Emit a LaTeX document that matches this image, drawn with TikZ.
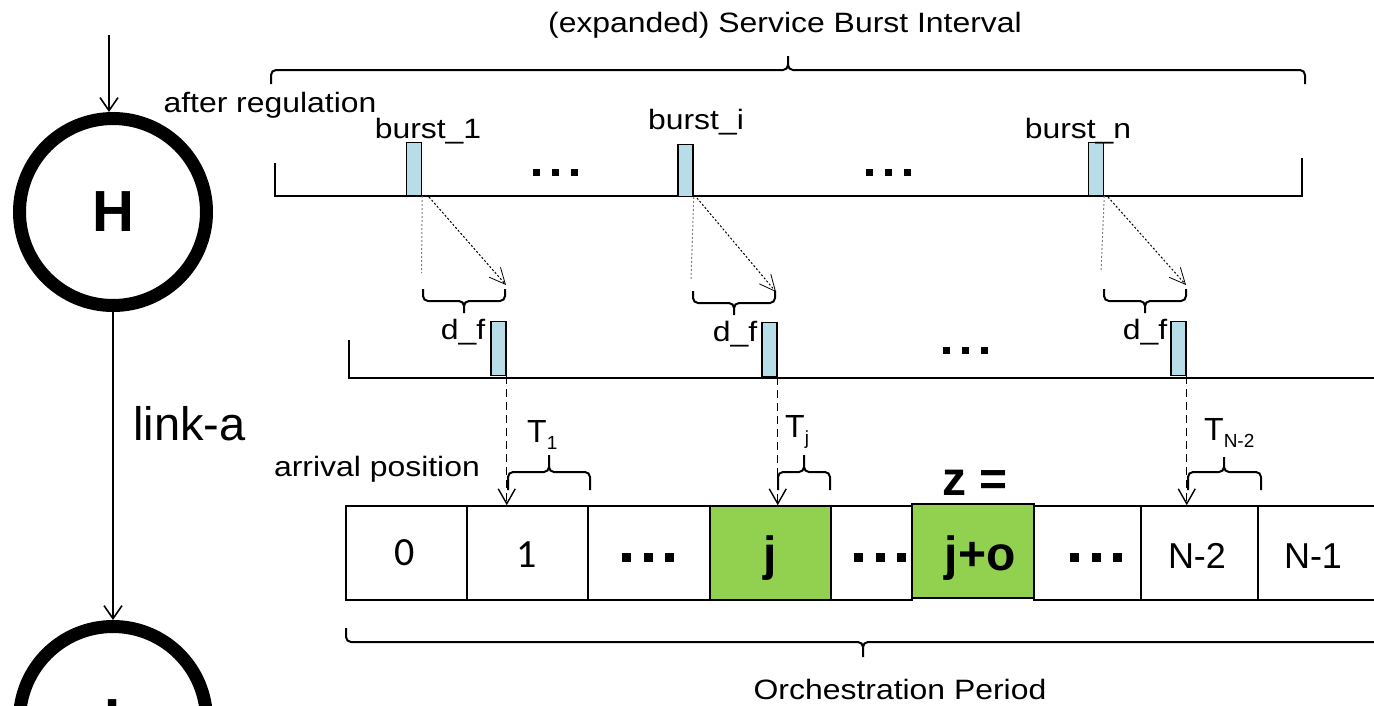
\documentclass[tikz,border=0pt]{standalone}
\usepackage{fontspec}
\setmainfont{Liberation Sans}
\newfontfamily\widesans{Liberation Sans}[FakeStretch=1.14]
\newfontfamily\digitfont{Carlito}
\usetikzlibrary{arrows.meta}

\definecolor{burstblue}{HTML}{B7DEE8}
\definecolor{slotgreen}{HTML}{92D050}

% three square dots: #1 = dot size, #2 = gap
\newcommand\sqdots[2]{\rule{#1}{#1}\hspace{#2}\rule{#1}{#1}\hspace{#2}\rule{#1}{#1}}
% curly brace: x1, x2, y of bar, y of ends, y of tip, x of tip
\newcommand\curlybrace[6]{\draw[bracket] (#1,#4) -- (#1,#3) -- (#6,#3) -- (#6,#5) (#6,#5) -- (#6,#3) -- (#2,#3) -- (#2,#4);}

\tikzset{
  wtxt/.style={font=\widesans\fontsize{28}{30}\selectfont, inner sep=0pt, anchor=base},
  btxt/.style={font=\bfseries\fontsize{48}{50}\selectfont, inner sep=0pt, anchor=base},
  ntxt/.style={font=\fontsize{36}{38}\selectfont, inner sep=0pt, anchor=base},
  dtxt/.style={font=\digitfont\fontsize{40}{42}\selectfont, inner sep=0pt, anchor=base},
  ttxt/.style={font=\fontsize{32}{34}\selectfont, inner sep=0pt, anchor=base west},
  hop/.style={circle, draw, line width=13pt, minimum size=187pt, inner sep=0pt,
              font=\bfseries\fontsize{58}{60}\selectfont},
  arr/.style={line width=1.6pt, -{Straight Barb[length=13pt,width=18pt]}},
  timeline/.style={line width=2.2pt},
  burst/.style={draw, line width=1.5pt, fill=burstblue, minimum width=15pt,
                minimum height=53pt, inner sep=0pt, anchor=south},
  shadowline/.style={gray, line width=1pt, dash pattern=on 2pt off 2pt},
  delayline/.style={line width=1pt, dash pattern=on 2pt off 2pt,
                -{Straight Barb[length=16pt,width=15pt,line width=0.8pt]}},
  drop/.style={line width=1.4pt, dash pattern=on 8pt off 5pt,
               -{Straight Barb[length=15pt,width=17pt]}},
  slot/.style={draw, line width=1.6pt, minimum height=94pt, inner sep=0pt},
  bracket/.style={line width=2pt, rounded corners=5pt},
  dotrow/.style={inner sep=0pt}
}

\begin{document}
\begin{tikzpicture}[x=1pt, y=-1pt]
\useasboundingbox (0,0) rectangle (1374,705);
\clip (0,0) rectangle (1374,705);

% hops and the link between them
\node[hop] (H) at (113,212) {H};
\node[hop] (I) at (113,720) {I};
\coordinate (in) at (109,35);
\draw[arr] (in) -- (in |- H.north);
\draw[arr] (H) -- (I);
\node[font=\fontsize{47}{49}\selectfont, inner sep=0pt, anchor=base west] (link) at (133,440) {link-a};

% service burst interval
\node[wtxt] (title) at (785,32) {(expanded) Service Burst Interval};
\curlybrace{271}{1305}{70}{84}{56}{788}
\node[wtxt] (after) at (270,112) {after regulation};

% timeline after regulation
\coordinate (l1a) at (275,163);
\coordinate (l1b) at (275,196);
\coordinate (l1c) at (1302,196);
\coordinate (l1d) at (1302,158);
\draw[timeline] (l1a) -- (l1b) -- (l1c) -- (l1d);
\node[burst] (b1) at (414,196) {};
\node[burst, minimum height=52pt] (bi) at (685.5,197) {};
\node[burst] (bn) at (1096,196) {};
\node[wtxt] (lb1) at (428,138) {burst\_1};
\node[wtxt] (lbi) at (696,129) {burst\_i};
\node[wtxt] (lbn) at (1078,138) {burst\_n};
\node[dotrow] (dots1) at (555,172) {\sqdots{7pt}{12pt}};
\node[dotrow] (dots2) at (888,172) {\sqdots{7pt}{12pt}};

% timeline at arrival
\coordinate (l2a) at (349,340);
\coordinate (l2b) at (349,378);
\coordinate (l2c) at (1380,378);
\draw[timeline] (l2a) -- (l2b) -- (l2c);
\node[burst, minimum height=54pt] (c1) at (498.5,376) {};
\node[burst, minimum height=54pt] (ci) at (769.5,377) {};
\node[burst, minimum height=54pt] (cn) at (1178.5,376) {};
\node[dotrow] (dots3) at (965,350) {\sqdots{7pt}{12pt}};

% forwarding delay d_f
\coordinate (v1) at (421.5,273);
\coordinate (vi) at (691,280);
\coordinate (vn) at (1101,272);
\draw[shadowline] (b1.south east) -- (v1);
\draw[shadowline] (bi.south east) -- (vi);
\draw[shadowline] (bn.south east) -- (vn);
\coordinate (s1) at (429,197);
\coordinate (si) at (697,198);
\coordinate (sn) at (1108,197);
\coordinate (e1) at (506,285);
\coordinate (ei) at (776,292);
\coordinate (en) at (1186,285);
\draw[delayline] (s1) -- (e1);
\draw[delayline] (si) -- (ei);
\draw[delayline] (sn) -- (en);
\curlybrace{423}{505}{301}{289}{313}{464}
\curlybrace{693}{775}{303}{291}{315}{734}
\curlybrace{1104}{1186}{301}{289}{313}{1145}
\node[wtxt] (df1) at (463,339) {d\_f};
\node[wtxt] (dfi) at (735,341) {d\_f};
\node[wtxt] (dfn) at (1145,339) {d\_f};

% orchestration slots
\node[slot, minimum width=121pt] (s0) at (406.5,553) {};
\node[slot, minimum width=121pt] (s1b) at (527.5,553) {};
\node[slot, minimum width=122pt] (sd1) at (649,553) {};
\node[slot, minimum width=121pt, fill=slotgreen] (sj) at (770.5,553) {};
\node[slot, minimum width=81pt] (sd2) at (871.5,553) {};
\node[slot, minimum width=107pt] (sd3) at (1087.5,553) {};
\node[slot, minimum width=117pt] (sn2) at (1199.5,553) {};
\node[slot, minimum width=130pt] (sn1) at (1323,553) {};
\node[slot, minimum width=122pt, line width=2pt, fill=slotgreen] (sjo) at (973,551) {};
\node[dtxt] (t0) at (405,565) {0};
\node[dtxt] (t1) at (527,567) {1};
\node[dotrow] (td1) at (648,557) {\sqdots{9pt}{12.5pt}};
\node[btxt] (tj) at (770,570) {j};
\node[dotrow] (td2) at (880,557) {\sqdots{9pt}{12.5pt}};
\node[btxt] (tjo) at (980,570) {j+o};
\node[dotrow] (td3) at (1096,557) {\sqdots{9pt}{12.5pt}};
\node[ntxt] (tn2) at (1197,568) {N-2};
\node[ntxt] (tn1) at (1313,568) {N-1};
\node[btxt] (z) at (975,495) {z =};
\node[wtxt] (arrival) at (377,476) {arrival position};

% arrival of each burst in its slot
\draw[drop] (c1.south east) -- (c1.south east |- s1b.north);
\draw[drop] (ci.south east) -- (ci.south east |- sj.north);
\draw[drop] (cn.south east) -- (cn.south east |- sn2.north);
\curlybrace{508}{590}{472}{490}{455}{549}
\curlybrace{778}{830}{472}{490}{455}{804}
\curlybrace{1188}{1261}{472}{490}{457}{1224}
\node[ttxt] (T1) at (527,442) {T\raisebox{-7pt}{\fontsize{19}{19}\selectfont 1}};
\node[ttxt] (Tj) at (785,437) {T\raisebox{-7pt}{\fontsize{19}{19}\selectfont j}};
\node[ttxt] (TN) at (1204,440) {T\raisebox{-7pt}{\fontsize{19}{19}\selectfont N-2}};

% orchestration period
\curlybrace{346}{1380}{642}{628}{657}{863}
\node[wtxt] (period) at (900,699) {Orchestration Period};
\end{tikzpicture}
\end{document}
